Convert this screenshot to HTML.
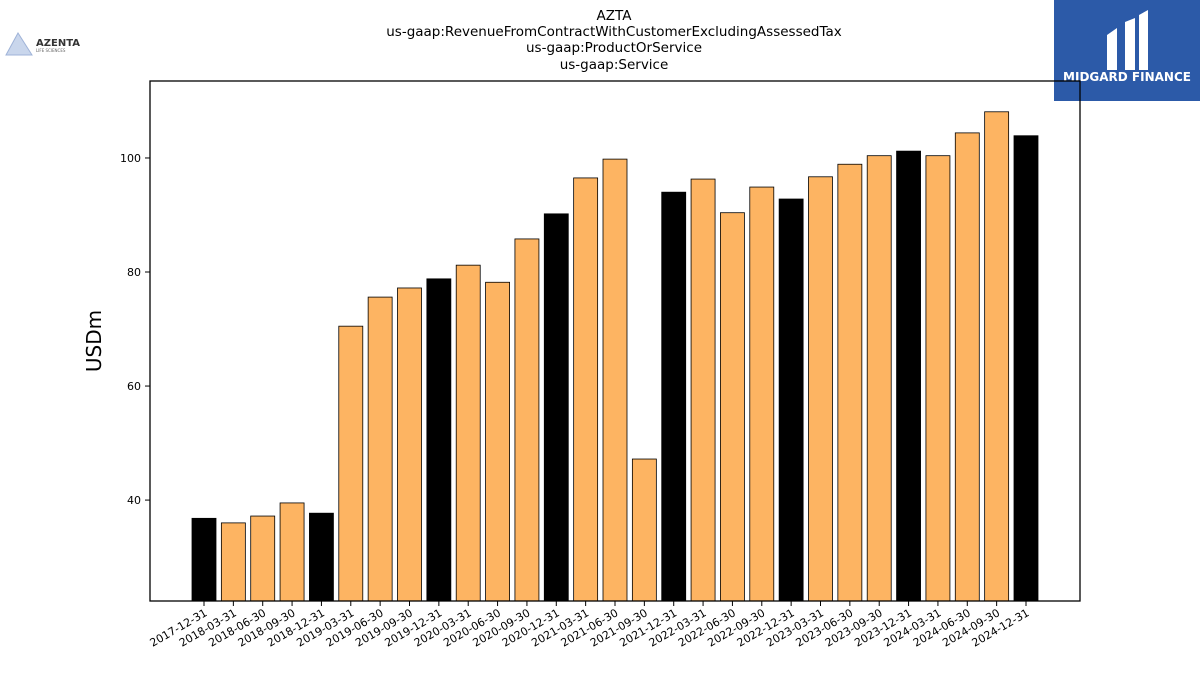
<!DOCTYPE html>
<html><head><meta charset="utf-8"><style>
body{margin:0;background:#fff;width:1200px;height:675px;overflow:hidden;font-family:"DejaVu Sans","Liberation Sans",sans-serif;}
</style></head><body>
<svg width="1200" height="675" xmlns="http://www.w3.org/2000/svg" font-family="DejaVu Sans, Liberation Sans, sans-serif">
<g font-size="13.5" text-anchor="middle" fill="#000">
<text x="614" y="20">AZTA</text>
<text x="614" y="36">us-gaap:RevenueFromContractWithCustomerExcludingAssessedTax</text>
<text x="614" y="52">us-gaap:ProductOrService</text>
<text x="614" y="69">us-gaap:Service</text>
</g>
<g>
<path d="M6 55 L18 33 L32 55 Z" fill="#c9d6ec" stroke="#9fb3d8"/>
<text x="36" y="46" font-size="10" font-weight="bold" fill="#333">AZENTA</text>
<text x="36" y="52" font-size="4" fill="#666">LIFE SCIENCES</text>
</g>
<g>
<rect x="1054" y="0" width="146" height="101" fill="#2c5aa8"/>
<path d="M1107 35 L1117 28 L1117 70 L1107 70 Z M1125 22 L1135 18 L1135 70 L1125 70 Z M1139 15 L1148 10 L1148 70 L1139 70 Z" fill="#fff"/>
<text x="1127" y="81" font-size="12" font-weight="bold" fill="#fff" text-anchor="middle">MIDGARD FINANCE</text>
</g>
<text x="101" y="341" font-size="20" text-anchor="middle" transform="rotate(-90 101 341)">USDm</text>
<g id="bars"></g>
<g id="yticks"></g>
<g id="xticks"></g>
<rect x="150" y="81" width="930" height="520" fill="none" stroke="#000" stroke-width="1.3"/>
</svg>
<script>
const categories=["2017-12-31","2018-03-31","2018-06-30","2018-09-30","2018-12-31","2019-03-31","2019-06-30","2019-09-30","2019-12-31","2020-03-31","2020-06-30","2020-09-30","2020-12-31","2021-03-31","2021-06-30","2021-09-30","2021-12-31","2022-03-31","2022-06-30","2022-09-30","2022-12-31","2023-03-31","2023-06-30","2023-09-30","2023-12-31","2024-03-31","2024-06-30","2024-09-30","2024-12-31"];
const values=[36.8,36.0,37.2,39.5,37.7,70.5,75.6,77.2,78.8,81.2,78.2,85.8,90.2,96.5,99.8,47.2,94.0,96.3,90.4,94.9,92.8,96.7,98.9,100.4,101.2,100.4,104.4,108.1,103.9];
const yTicks=[40,60,80,100];
const NS="http://www.w3.org/2000/svg";
const yMin=22.3,yMax=113.5,plotTop=81,plotBot=601;
function y(v){return plotBot-(v-yMin)/(yMax-yMin)*(plotBot-plotTop);}
const x0=204,step=(1026-204)/28;
function x(i){return x0+i*step;}
const bars=document.getElementById('bars'),yt=document.getElementById('yticks'),xt=document.getElementById('xticks');
values.forEach((v,i)=>{
 const r=document.createElementNS(NS,'rect');
 
 
 r.setAttribute('x',x(i)-12);r.setAttribute('width',24);
 r.setAttribute('y',y(v));r.setAttribute('height',plotBot-y(v));
 r.setAttribute('fill',categories[i].endsWith('12-31')?'#000':'#fdb462');
 r.setAttribute('stroke','#000');r.setAttribute('stroke-width','0.8');
 bars.appendChild(r);
 const t=document.createElementNS(NS,'line');
 
 
 t.setAttribute('x1',x(i));t.setAttribute('x2',x(i));t.setAttribute('y1',plotBot);t.setAttribute('y2',plotBot+5);t.setAttribute('stroke','#000');
 xt.appendChild(t);
 const l=document.createElementNS(NS,'text');
 
 
 const lx=x(i)+4,ly=plotBot+14;
 l.setAttribute('x',lx);l.setAttribute('y',ly);l.setAttribute('font-size','11');l.setAttribute('text-anchor','end');
 l.setAttribute('transform','rotate(-30 '+lx+' '+ly+')');
 l.textContent=categories[i];xt.appendChild(l);
});
yTicks.forEach(v=>{
 const t=document.createElementNS(NS,'line');
 
 
 t.setAttribute('x1',145);t.setAttribute('x2',150);t.setAttribute('y1',y(v));t.setAttribute('y2',y(v));t.setAttribute('stroke','#000');
 yt.appendChild(t);
 const l=document.createElementNS(NS,'text');
 
 
 l.setAttribute('x',141);l.setAttribute('y',y(v)+4);l.setAttribute('font-size','11');l.setAttribute('text-anchor','end');
 l.textContent=v;yt.appendChild(l);
});
</script>
</body></html>
